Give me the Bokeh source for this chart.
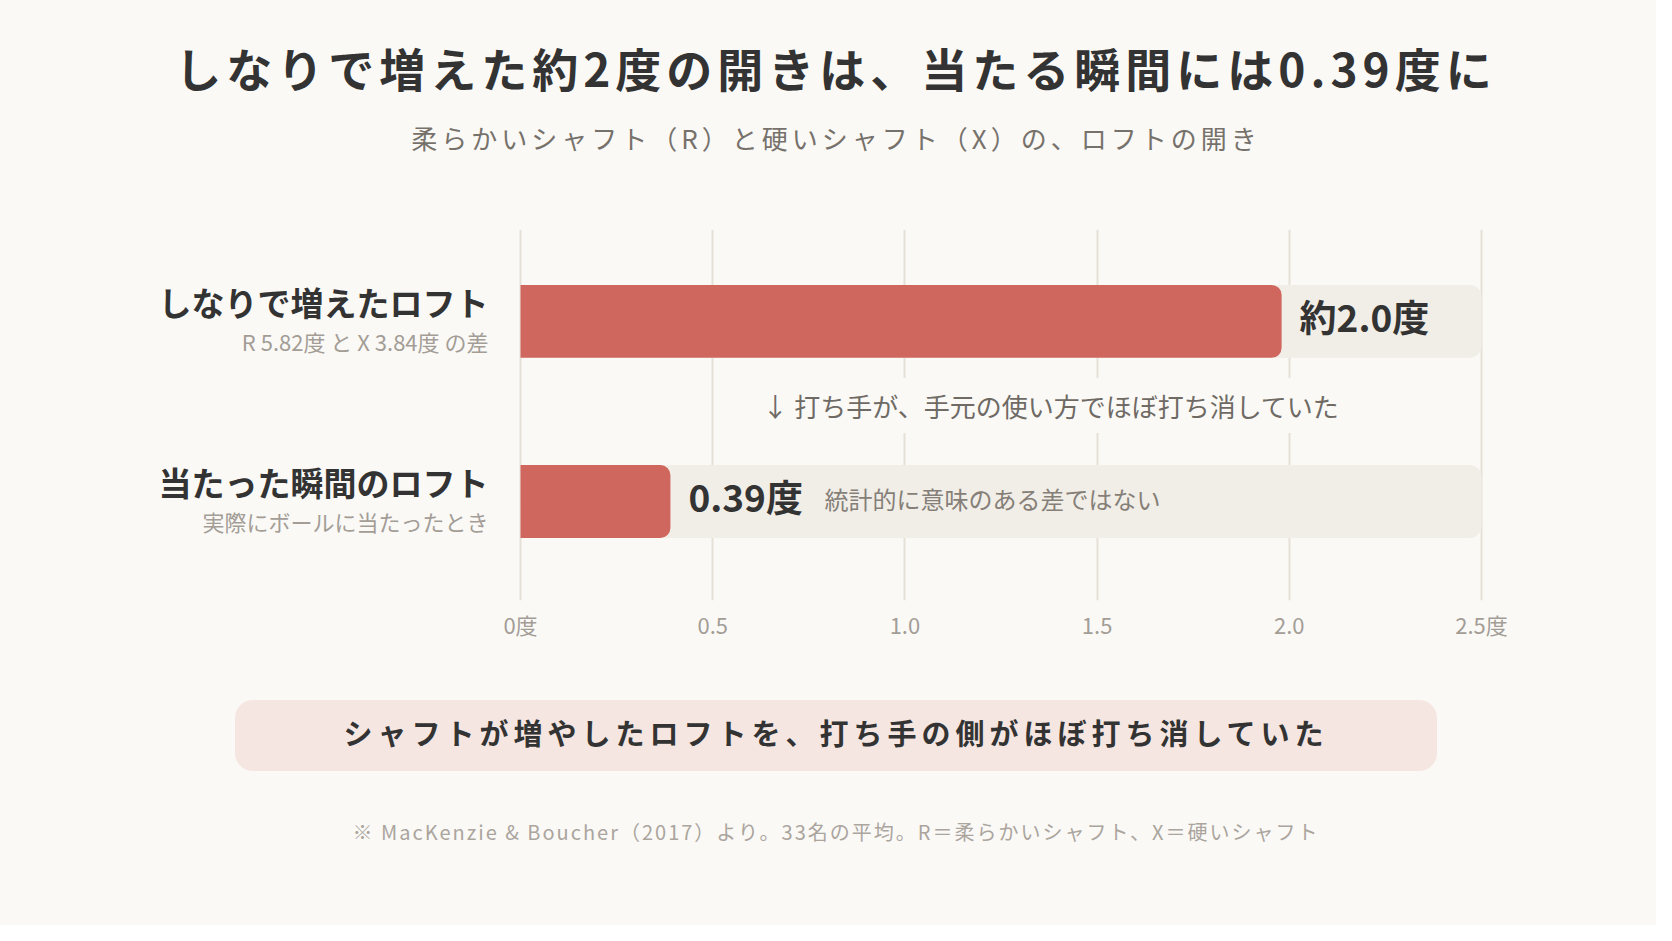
from bokeh.plotting import figure
from bokeh.layouts import column
from bokeh.models import ColumnDataSource, Label, FixedTicker, Range1d, Div
from bokeh.core.properties import value
from bokeh.embed import file_html
from bokeh.resources import INLINE

FONT = "Noto Sans CJK JP"

# data
categories = ["しなりで増えたロフト", "当たった瞬間のロフト"]
sublabels = ["R 5.82度 と X 3.84度 の差", "実際にボールに当たったとき"]
values = [1.98, 0.39]
value_labels = ["約2.0度", "0.39度"]
positions = [1, 0]
x_max = 2.5
tick_vals = [0, 0.5, 1.0, 1.5, 2.0, 2.5]
tick_labels = ["0度", "0.5", "1.0", "1.5", "2.0", "2.5度"]

title = "しなりで増えた約2度の開きは、当たる瞬間には0.39度に"
subtitle = "柔らかいシャフト（R）と硬いシャフト（X）の、ロフトの開き"
middle_note = "↓ 打ち手が、手元の使い方でほぼ打ち消していた"
bar_note = "統計的に意味のある差ではない"
takeaway = "シャフトが増やしたロフトを、打ち手の側がほぼ打ち消していた"
footnote = "※ MacKenzie &amp; Boucher（2017）より。33名の平均。R＝柔らかいシャフト、X＝硬いシャフト"

# colours
BG = "#FAF9F6"
RED = "#D0675E"
TRACK = "#F1EDE7"
GRID = "#E6E1D7"
DARK = "#333333"
GREY = "#A39D96"

W = 1656

# header
header = Div(width=W, height=180, margin=0, styles={"background-color": BG}, text=f"""
<div style="position:relative;width:{W}px;height:180px;font-family:'{FONT}';">
  <div style="position:absolute;left:8px;width:{W}px;top:35px;height:64px;line-height:64px;
              text-align:center;font-size:46px;font-weight:bold;letter-spacing:5px;color:{DARK};
              white-space:nowrap;">{title}</div>
  <div style="position:absolute;left:8px;width:{W}px;top:118px;height:40px;line-height:40px;
              text-align:center;font-size:26px;letter-spacing:4px;color:#77716B;
              white-space:nowrap;">{subtitle}</div>
</div>""")

src = ColumnDataSource(dict(
    y=positions, v=values, vmax=[x_max] * len(values),
    cat=categories, sub=sublabels, vl=value_labels,
))

p = figure(width=W, height=500, output_backend="svg", toolbar_location=None,
           x_range=Range1d(-1.35276, 2.95525), y_range=Range1d(-0.55, 1.51),
           min_border_left=0, min_border_right=0,
           min_border_top=49, min_border_bottom=80)
p.background_fill_color = BG
p.border_fill_color = BG
p.outline_line_color = None

# track + bars
p.hbar(y="y", left=0, right="vmax", height=0.405, source=src, fill_color=TRACK,
       line_color=None, border_radius=dict(top_left=0, top_right=12, bottom_right=12, bottom_left=0))
p.hbar(y="y", left=0, right="v", height=0.405, source=src, fill_color=RED,
       line_color=None, border_radius=dict(top_left=0, top_right=10, bottom_right=10, bottom_left=0))

# value labels
p.text(x="v", y="y", text="vl", source=src, x_offset=18, y_offset=-5, text_baseline="middle",
       text_font=value(FONT), text_font_style="bold", text_font_size="37px", text_color=DARK)
p.text(x=[values[1]], y=[positions[1]], text=[bar_note], x_offset=154, y_offset=-3,
       text_baseline="middle", text_font=value(FONT), text_font_size="24px", text_color="#857F78")

# category labels
p.text(x=0, y="y", text="cat", source=src, x_offset=-32, y_offset=-19,
       text_align="right", text_baseline="middle",
       text_font=value(FONT), text_font_style="bold", text_font_size="33px", text_color=DARK)
p.text(x=0, y="y", text="sub", source=src, x_offset=-32, y_offset=20,
       text_align="right", text_baseline="middle",
       text_font=value(FONT), text_font_size="22px", text_color=GREY)

# axis / grid
p.yaxis.visible = False
p.ygrid.visible = False
p.xgrid.grid_line_color = GRID
p.xgrid.grid_line_width = 2
p.xaxis.ticker = FixedTicker(ticks=tick_vals)
p.xaxis.major_label_overrides = dict(zip(tick_vals, tick_labels))
p.xaxis.axis_line_color = None
p.xaxis.major_tick_line_color = None
p.xaxis.minor_tick_line_color = None
p.xaxis.major_label_standoff = 1
p.xaxis.major_label_text_font = FONT
p.xaxis.major_label_text_font_size = "22px"
p.xaxis.major_label_text_color = GREY

# note between bars
p.add_layout(Label(x=1.38, y=0.5, y_offset=6, text=middle_note, text_align="center",
                   text_baseline="middle", text_font=FONT, text_font_size="26px",
                   text_color="#6F6A64", background_fill_color=BG,
                   padding=dict(left=10, right=10, top=9, bottom=9)))

# footer
footer = Div(width=W, height=245, margin=0, styles={"background-color": BG}, text=f"""
<div style="position:relative;width:{W}px;height:245px;font-family:'{FONT}';">
  <div style="position:absolute;left:235px;top:20px;width:1202px;height:71px;background:#F5E6E2;
              border-radius:18px;"></div>
  <div style="position:absolute;left:235px;top:17px;width:1202px;height:71px;line-height:71px;
              text-align:center;font-size:29px;font-weight:bold;letter-spacing:5px;color:{DARK};
              white-space:nowrap;">{takeaway}</div>
  <div style="position:absolute;left:8px;width:{W}px;top:135px;height:34px;line-height:34px;
              text-align:center;font-size:20px;letter-spacing:2px;color:#ABA59E;
              white-space:nowrap;">{footnote}</div>
</div>""")

layout = column(header, p, footer, spacing=0, styles={"background-color": BG})

open("out.html", "w").write(file_html(layout, INLINE))
